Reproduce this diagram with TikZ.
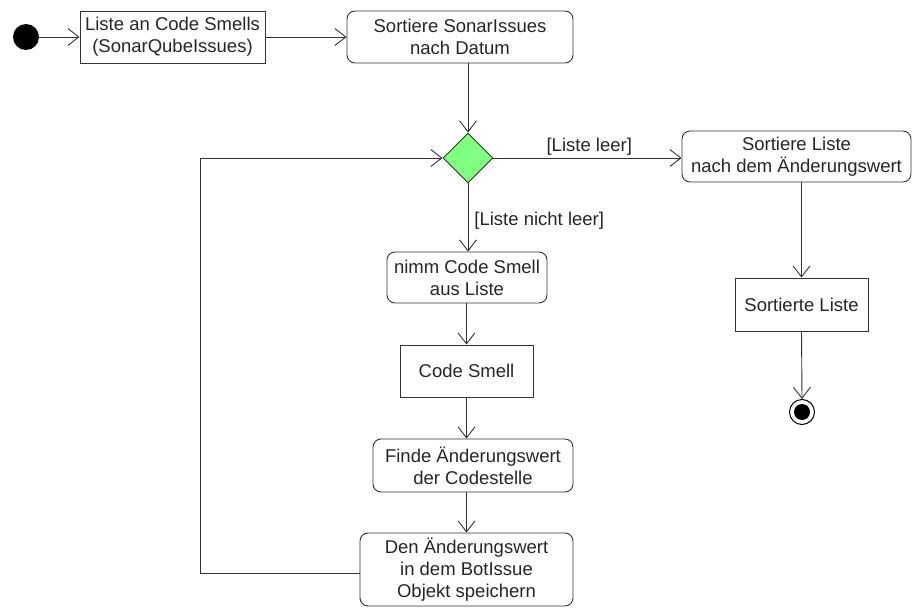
\documentclass[tikz,border=0pt]{standalone}
\usepackage{fontspec}
\setmainfont{Liberation Sans}
\usetikzlibrary{arrows.meta,shapes.geometric}
\definecolor{linegray}{HTML}{333333}
\definecolor{decgreen}{HTML}{80FF80}
\begin{document}
\begin{tikzpicture}[x=1pt,y=-1pt,
  every node/.style={font=\fontsize{18.5}{22}\selectfont, text=black!85},
  action/.style={draw=linegray, line width=0.9pt, rounded corners=8pt, align=center, inner sep=0pt},
  objbox/.style={draw=linegray, line width=0.9pt, align=center, inner sep=0pt},
  flow/.style={draw=linegray, line width=0.9pt, -{Straight Barb[length=11pt,width=17pt,line width=0.9pt]}},
  guard/.style={inner sep=0pt, anchor=west}]
  \useasboundingbox (0,0) rectangle (913,610);

  % initial and final nodes
  \node[circle, fill=black, minimum size=26pt, inner sep=0pt] (start) at (26,37) {};
  \node[circle, draw=black, line width=1pt, minimum size=25pt, inner sep=0pt] (final) at (802,412) {};
  \fill[black] (final.center) circle (8pt);

  % actions and objects
  \node[objbox, minimum width=185pt, minimum height=52pt] (list) at (172.5,37) {Liste an Code Smells\\(SonarQubeIssues)};
  \node[action, minimum width=226pt, minimum height=52pt] (sortdate) at (460,37) {Sortiere SonarIssues\\nach Datum};
  \node[diamond, draw=linegray, line width=0.9pt, fill=decgreen, minimum width=50pt, minimum height=50pt, inner sep=0pt] (dec) at (468,158) {};
  \node[action, minimum width=229pt, minimum height=51pt] (sortval) at (796.5,156.5) {Sortiere Liste\\nach dem Änderungswert};
  \node[objbox, minimum width=133pt, minimum height=53pt] (sorted) at (801.5,304.5) {Sortierte Liste};
  \node[action, minimum width=160pt, minimum height=51pt] (take) at (467,277.5) {nimm Code Smell\\aus Liste};
  \node[objbox, minimum width=133pt, minimum height=52pt] (smell) at (466.5,371) {Code Smell};
  \node[action, minimum width=200pt, minimum height=53pt] (find) at (473,465.5) {Finde Änderungswert\\der Codestelle};
  \node[action, minimum width=213pt, minimum height=73pt] (store) at (466.5,569.5) {Den Änderungswert\\in dem BotIssue\\Objekt speichern};

  % control flow
  \draw[flow] (start) -- (list);
  \draw[flow] (list) -- (sortdate);
  \draw[flow] (sortdate.south -| dec.north) -- (dec.north);
  \draw[flow] (dec.east) -- node[guard, pos=0.28, yshift=11pt] {[Liste leer]} (dec.east -| sortval.west);
  \draw[flow] (sorted.north |- sortval.south) -- (sorted.north);
  \draw[flow] (sorted.south) -- (final.north);
  \draw[flow] (dec.south) -- node[guard, pos=0.55, xshift=6pt] {[Liste nicht leer]} (dec.south |- take.north);
  \draw[flow] (take.south -| smell.north) -- (smell.north);
  \draw[flow] (smell.south) -- (smell.south |- find.north);
  \draw[flow] (smell.south |- find.south) -- (smell.south |- store.north);
  \coordinate (loopbl) at (200,573);
  \draw[flow] (store.west |- loopbl) -- (loopbl) |- (dec.west);
\end{tikzpicture}
\end{document}
